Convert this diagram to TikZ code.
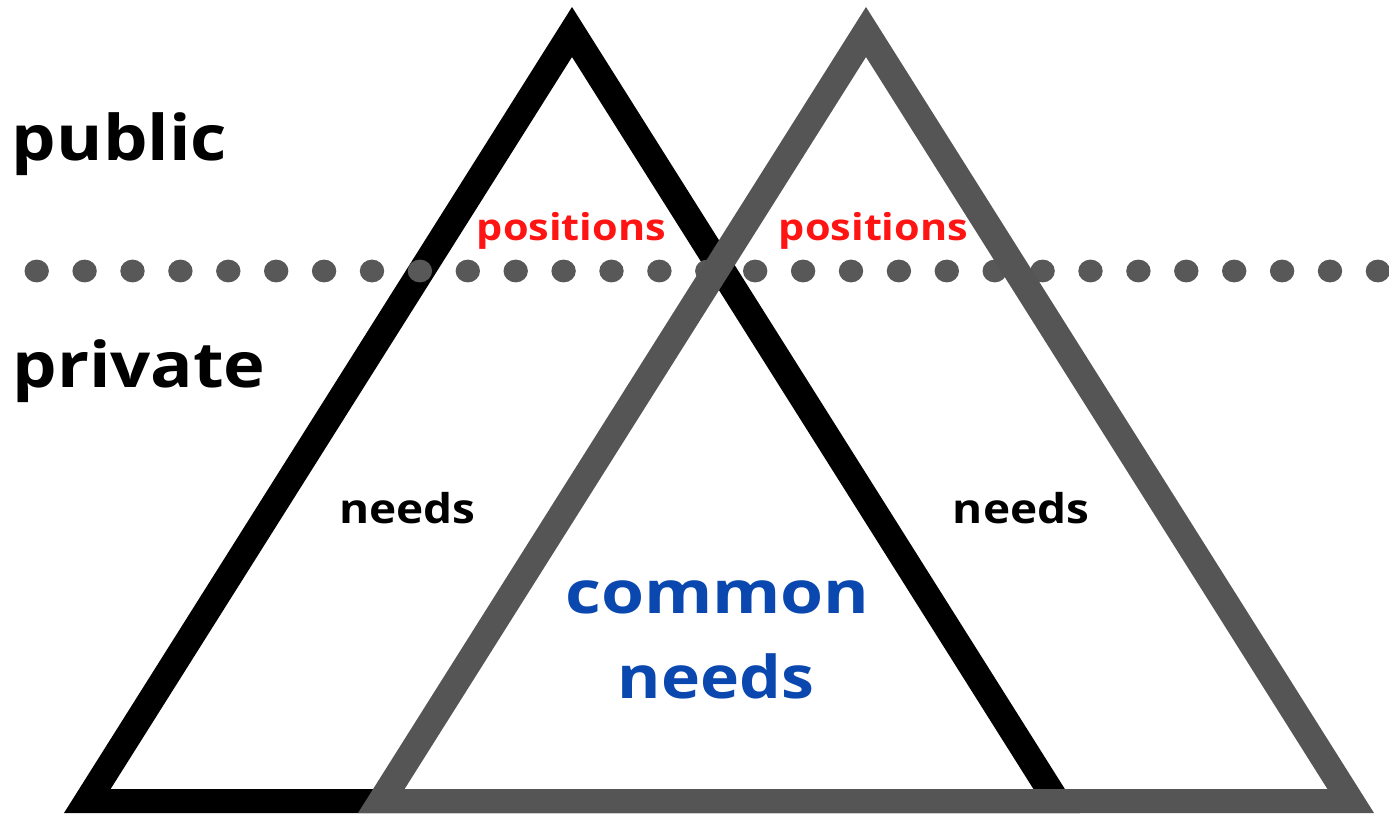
\documentclass[tikz,border=0pt]{standalone}
\usepackage{fontspec}
\setmainfont{Open Sans}[FakeStretch=1.12]
\newfontfamily\widefont{Open Sans}[FakeStretch=1.18]
\definecolor{darkgrey}{HTML}{555555}
\definecolor{dotgrey}{HTML}{585858}
\definecolor{posred}{HTML}{FF1414}
\definecolor{commonblue}{HTML}{0A48AF}
\begin{document}
\begin{tikzpicture}[x=1pt,y=-1pt,
  tri/.style={even odd rule,draw=none},
  label/.style={anchor=base,inner sep=0pt,font=\bfseries},
  sidelabel/.style={label,font=\fontsize{63}{68}\selectfont\bfseries},
  poslabel/.style={label,text=posred,font=\fontsize{37}{40}\selectfont\bfseries},
  needlabel/.style={label,font=\fontsize{41}{44}\selectfont\bfseries},
  commonlabel/.style={label,text=commonblue,font=\fontsize{59}{62}\selectfont\bfseries},
  dot/.style={fill=dotgrey,draw=none}]
\useasboundingbox (0,0) rectangle (1389,816);
% outer and inner outline of the left triangle
\coordinate (bA) at (572,7);
\coordinate (bL) at (64,813);
\coordinate (bR) at (1080,813);
\coordinate (bAi) at (572,57);
\coordinate (bLi) at (110.6,789);
\coordinate (bRi) at (1033.4,789);
% outer and inner outline of the right triangle
\coordinate (gA) at (866,7);
\coordinate (gL) at (358,813);
\coordinate (gR) at (1374,813);
\coordinate (gAi) at (866,57);
\coordinate (gLi) at (404.6,789);
\coordinate (gRi) at (1327.4,789);
% left triangle
\fill[tri,black] (bA) -- (bL) -- (bR) -- cycle (bAi) -- (bLi) -- (bRi) -- cycle;
% dotted boundary between public and private
\foreach \k in {0,...,28}
  \fill[dot] ({36.7+47.9*\k},271) ellipse [x radius=12.2,y radius=11.4];
% right triangle
\fill[tri,darkgrey] (gA) -- (gL) -- (gR) -- cycle (gAi) -- (gLi) -- (gRi) -- cycle;
% labels
\node[sidelabel] (public) at (119.5,160) {public};
\node[sidelabel] (private) at (139,387) {private};
\node[poslabel] (posL) at (571.5,240) {positions};
\node[poslabel] (posR) at (873.5,240) {positions};
\node[needlabel] (needsL) at (407.5,523) {needs};
\node[needlabel] (needsR) at (1021,523) {needs};
\node[commonlabel,font=\fontsize{59}{62}\selectfont\widefont\bfseries] (common) at (717.5,613) {common};
\node[commonlabel] (commonneeds) at (716,698) {needs};
\end{tikzpicture}
\end{document}
